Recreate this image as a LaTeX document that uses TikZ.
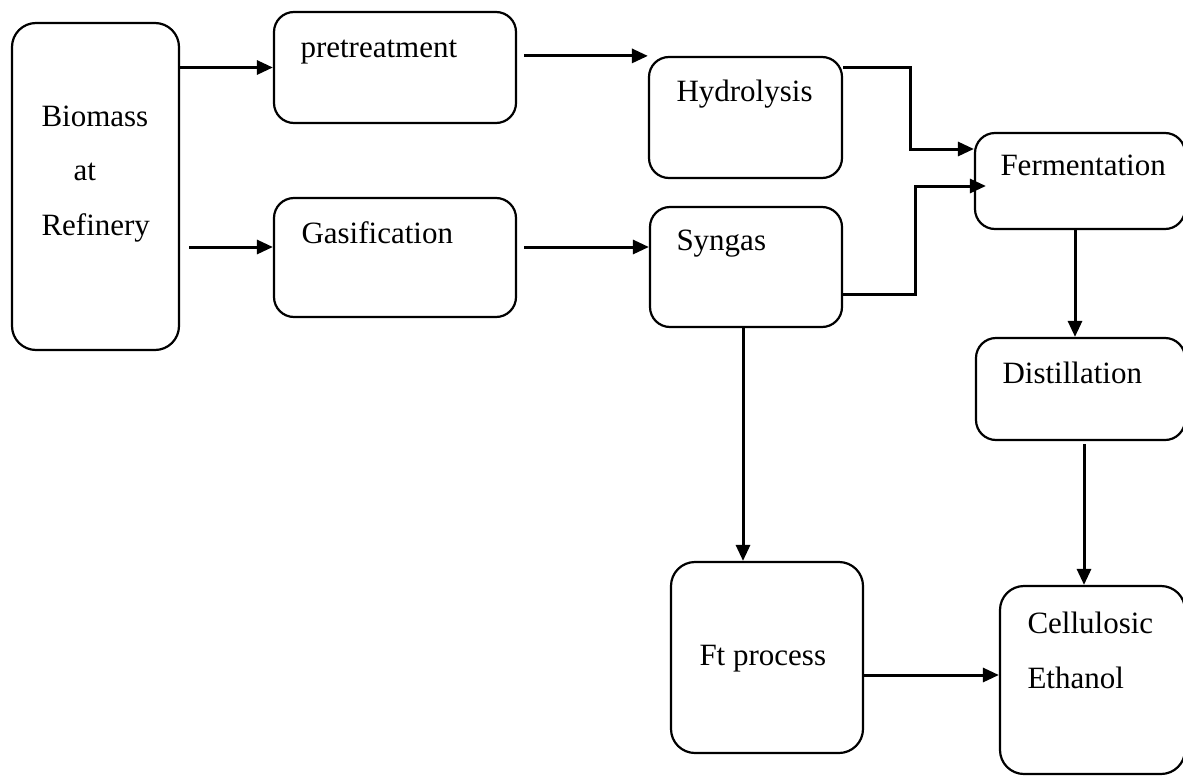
\documentclass[tikz,border=0pt]{standalone}
\usepackage{fontspec}
\setmainfont{Liberation Serif}
\usetikzlibrary{arrows.meta}

\tikzset{
  box/.style={draw, line width=1.1pt, rounded corners=10pt, inner sep=0pt},
  txt/.style={anchor=base west, inner sep=0pt, font=\fontsize{15.5}{18}\selectfont},
}

\begin{document}
\begin{tikzpicture}[>={Triangle[length=8pt,width=7pt]},line width=1.5pt,x=0.5pt,y=-0.5pt]
\useasboundingbox (0,0) rectangle (1183,776);
% ---- boxes ----
\node[box, rounded corners=12pt, minimum width=83.5pt, minimum height=163.5pt] (bio) at (95.5,186.5) {};
\node[box, minimum width=121pt, minimum height=55.5pt] (pre) at (395,67.5) {};
\node[box, minimum width=121pt, minimum height=59.5pt] (gas) at (395,257.5) {};
\node[box, minimum width=96.5pt, minimum height=60.5pt] (hyd) at (745.5,117.5) {};
\node[box, minimum width=96pt, minimum height=60pt] (syn) at (746,267) {};
\node[box, minimum width=105pt, minimum height=48pt] (fer) at (1080,181) {};
\node[box, minimum width=104.5pt, minimum height=51pt] (dis) at (1080.5,389) {};
\node[box, rounded corners=12pt, minimum width=96pt, minimum height=95.5pt] (ft) at (767,657.5) {};
\node[box, rounded corners=12pt, minimum width=92.5pt, minimum height=94pt] (cel) at (1092.5,680) {};
% ---- texts ----
\node[txt] (bio-a) at (40,126) {Biomass};
\node[txt] (bio-b) at (72,180) {at};
\node[txt] (bio-c) at (40,235) {Refinery};
\node[txt] (pre-t) at (299,57) {pretreatment};
\node[txt] (gas-t) at (300,243) {Gasification};
\node[txt] (hyd-t) at (675,101) {Hydrolysis};
\node[txt] (syn-t) at (675,250) {Syngas};
\node[txt] (fer-t) at (999,175) {Fermentation};
\node[txt] (dis-t) at (1001,383) {Distillation};
\node[txt] (ft-t) at (698,665) {Ft process};
\node[txt] (cel-a) at (1026,633) {Cellulosic};
\node[txt] (cel-b) at (1026,688) {Ethanol};
% ---- arrows ----
\draw[->] (bio.east |- pre.west) -- (pre.west);
\coordinate (b2) at ([xshift=4.5pt]bio.east);
\coordinate (g1) at ([yshift=5.25pt]gas.west);
\draw[->] (b2 |- g1) -- (g1);
\coordinate (p1) at ([xshift=3.5pt]pre.east);
\draw[->] (p1 |- hyd.north west) -- (hyd.north west);
\coordinate (g2) at ([xshift=3.5pt]gas.east);
\coordinate (s1) at ([yshift=10pt]syn.west);
\draw[->] (g2 |- s1) -- (s1);
\coordinate (h1) at ([yshift=-6pt]hyd.north east);
\coordinate (f1) at ([yshift=16pt]fer.west);
\draw[->] (h1) -- ++(67,0) |- (f1);
\coordinate (s2) at ([yshift=-13.5pt]syn.east);
\coordinate (f2) at ([xshift=6pt,yshift=-2.5pt]fer.west);
\draw[->] (s2) -- ++(72,0) |- (f2);
\coordinate (f3) at ([xshift=-2.5pt]fer.south);
\draw[->] (f3) -- (f3 |- dis.north);
\coordinate (d1) at ([xshift=1.75pt,yshift=-1.5pt]dis.south);
\draw[->] (d1) -- (d1 |- cel.north);
\coordinate (s3) at ([xshift=-1.5pt]syn.south);
\draw[->] (s3) -- (s3 |- ft.north);
\coordinate (t1) at ([yshift=-8.75pt]ft.east);
\draw[->] (t1) -- (t1 -| cel.west);
\end{tikzpicture}
\end{document}
